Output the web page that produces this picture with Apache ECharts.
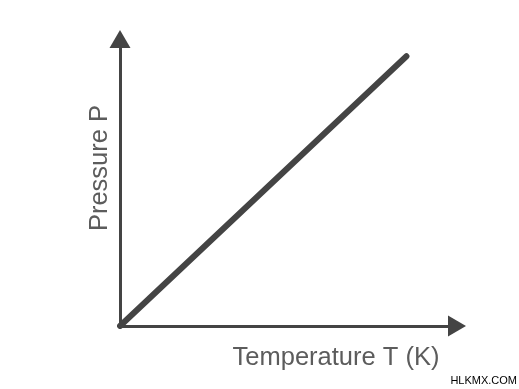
<!DOCTYPE html>
<html><head><meta charset="utf-8">
<script src="https://cdn.jsdelivr.net/npm/echarts@6/dist/echarts.min.js"></script>
<style>html,body{margin:0;padding:0;background:#fff}#c{width:519px;height:389px}</style>
</head><body><div id="c"></div>
<script>
const temperature = [0, 8.5];
const pressure = [0, 9.4];
const xName = 'Temperature T (K)';
const yName = 'Pressure P';
const watermark = 'HLKMX.COM';

const chart = echarts.init(document.getElementById('c'), null, {renderer: 'canvas'});
const axisColor = '#444444';
const textColor = '#5c5c5c';
chart.setOption({
  animation: false,
  backgroundColor: '#ffffff',
  grid: {left: 120, right: 62, top: 39, bottom: 63},
  xAxis: {
    type: 'value', min: 0, max: 10,
    name: xName, nameLocation: 'middle', nameGap: 19,
    nameTextStyle: {fontFamily: 'Liberation Sans', fontSize: 25.5, color: textColor, padding: [0, 0, 0, 95]},
    axisLine: {show: true, symbol: ['none', 'triangle'], symbolSize: [21, 18], lineStyle: {color: axisColor, width: 3}},
    axisTick: {show: false}, axisLabel: {show: false}, splitLine: {show: false}
  },
  yAxis: {
    type: 'value', min: 0, max: 10,
    name: yName, nameLocation: 'middle', nameGap: 7,
    nameTextStyle: {fontFamily: 'Liberation Sans', fontSize: 25.5, color: textColor, padding: [0, 0, 0, 29]},
    axisLine: {show: true, symbol: ['none', 'triangle'], symbolSize: [21, 18], lineStyle: {color: axisColor, width: 3}},
    axisTick: {show: false}, axisLabel: {show: false}, splitLine: {show: false}
  },
  graphic: [{
    type: 'text', right: 2, bottom: 3,
    style: {text: watermark, font: '11px "Liberation Sans"', fill: '#000'}
  }],
  series: [{
    type: 'line',
    data: temperature.map((t, i) => [t, pressure[i]]),
    showSymbol: false,
    lineStyle: {color: axisColor, width: 6, cap: 'round'}
  }]
});
</script></body></html>
